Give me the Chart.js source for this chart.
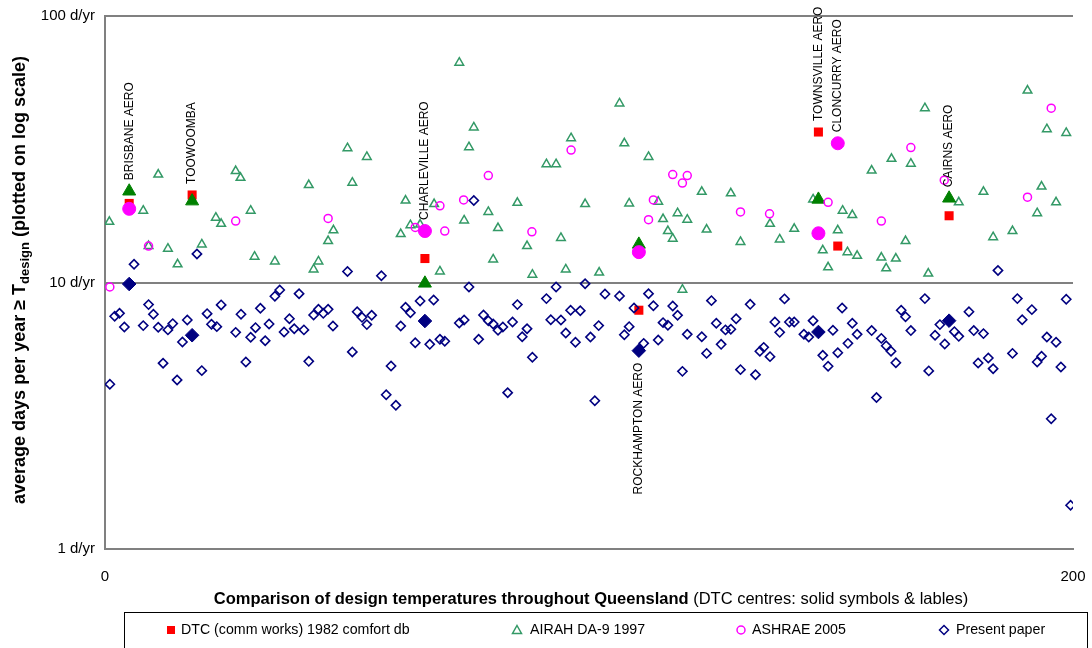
<!DOCTYPE html>
<html>
<head>
<meta charset="utf-8">
<title>Comparison of design temperatures throughout Queensland</title>
<script src="https://cdn.jsdelivr.net/npm/chart.js@4.4.0/dist/chart.umd.min.js"></script>
<style>
  html, body { margin: 0; padding: 0; background: #fff; }
  #wrap { width: 1092px; height: 648px; }
</style>
</head>
<body>
<div id="wrap"><canvas id="chart" width="1092" height="648"></canvas></div>
<script>
// DTC centres (solid symbols + labels)
const centreNames = ['BRISBANE AERO', 'TOOWOOMBA', 'CHARLEVILLE AERO', 'ROCKHAMPTON AERO', 'TOWNSVILLE AERO', 'CLONCURRY AERO', 'CAIRNS AERO'];
const centreX = [5.0, 18.0, 66.1, 110.3, 147.4, 151.4, 174.4];
const labelBelow = [false, false, false, true, false, false, false];
const dtcValues = [19.8, 21.3, 12.3, 7.87, 36.7, 13.7, 17.8];
const airahCentreValues = [22.0, 20.2, 9.93, 13.9, 20.5, null, 20.7];
const ashraeCentreValues = [18.9, null, 15.6, 13.0, 15.3, 33.3, null];
const presentCentreValues = [9.87, 6.34, 7.17, 5.55, 6.52, null, 7.19];

// Other stations: [station, days per year]
const airahPoints = [
  [0.9, 16.9], [7.9, 18.6], [9.0, 13.7], [11.0, 25.4], [13.0, 13.4], [15.0, 11.7], [20.0, 13.9], [22.9, 17.5],
  [24.0, 16.6], [27.0, 26.2], [28.0, 24.7], [30.1, 18.6], [30.9, 12.5], [35.1, 12.0], [42.1, 23.2], [43.1, 11.2],
  [44.1, 12.0], [46.1, 14.3], [47.2, 15.7], [50.1, 31.9], [51.1, 23.7], [54.1, 29.6], [61.1, 15.2], [62.1, 20.3],
  [63.1, 16.4], [65.1, 16.5], [68.0, 19.7], [69.2, 11.0], [73.2, 66.8], [74.2, 17.1], [75.2, 32.2], [76.2, 38.2],
  [79.2, 18.4], [80.2, 12.2], [81.2, 16.0], [85.2, 19.9], [87.2, 13.7], [88.3, 10.7], [91.2, 27.8], [93.2, 27.8],
  [94.2, 14.7], [95.2, 11.2], [96.3, 34.8], [99.2, 19.7], [102.1, 10.9], [106.3, 47.0], [107.3, 33.3], [108.3, 19.8],
  [112.3, 29.6], [114.3, 20.1], [115.3, 17.3], [116.3, 15.6], [117.3, 14.6], [118.3, 18.2], [119.3, 9.40], [120.3, 17.2],
  [123.3, 21.9], [124.3, 15.8], [129.3, 21.6], [131.3, 14.2], [137.4, 16.6], [139.4, 14.5], [142.4, 15.9], [146.3, 20.5],
  [148.3, 13.2], [149.4, 11.4], [151.4, 15.7], [152.4, 18.6], [153.4, 13.0], [154.4, 17.9], [155.4, 12.6], [158.4, 26.3],
  [160.4, 12.4], [161.4, 11.3], [162.5, 29.1], [163.4, 12.3], [165.4, 14.3], [166.5, 27.9], [169.4, 45.1], [170.1, 10.8],
  [176.4, 20.0], [181.5, 21.9], [183.5, 14.8], [187.5, 15.6], [190.6, 52.5], [192.6, 18.2], [193.5, 22.9], [194.6, 37.6],
  [196.5, 20.0], [198.6, 36.4]
];

const ashraePoints = [
  [1.0, 9.62], [9.0, 13.7], [27.0, 17.0], [46.1, 17.4], [64.1, 16.1], [69.2, 19.4], [70.2, 15.6], [74.1, 20.4],
  [79.2, 25.2], [88.2, 15.5], [96.3, 31.4], [112.3, 17.2], [113.3, 20.4], [117.3, 25.4], [119.3, 23.6], [120.3, 25.2],
  [131.3, 18.4], [137.3, 18.1], [149.4, 20.0], [160.4, 17.0], [166.5, 32.1], [173.4, 24.2], [190.6, 20.9], [195.5, 45.1]
];

const presentPoints = [
  [1.0, 4.15], [2.0, 7.47], [3.0, 7.66], [4.0, 6.81], [6.0, 11.7], [7.9, 6.89], [9.0, 8.26], [10.0, 7.60],
  [11.0, 6.79], [12.0, 4.98], [13.0, 6.64], [14.0, 7.01], [14.9, 4.31], [16.0, 5.98], [17.0, 7.23], [19.0, 12.8],
  [20.0, 4.67], [21.1, 7.64], [22.0, 6.97], [23.1, 6.83], [24.0, 8.24], [27.0, 6.50], [28.1, 7.60], [29.1, 5.03],
  [30.1, 6.23], [31.1, 6.77], [32.1, 8.00], [33.1, 6.05], [33.9, 6.99], [35.1, 8.88], [36.1, 9.37], [37.0, 6.52],
  [38.1, 7.31], [39.1, 6.71], [40.1, 9.08], [41.1, 6.64], [42.1, 5.06], [43.1, 7.55], [44.1, 7.93], [45.1, 7.66],
  [46.1, 7.93], [47.1, 6.87], [50.1, 11.0], [51.1, 5.49], [52.1, 7.77], [53.1, 7.40], [54.1, 6.95], [55.1, 7.53],
  [57.1, 10.6], [58.1, 3.79], [59.1, 4.86], [60.1, 3.46], [61.1, 6.87], [62.1, 8.07], [63.1, 7.70], [64.1, 5.94],
  [65.1, 8.52], [67.1, 5.86], [67.9, 8.60], [69.2, 6.12], [70.2, 6.02], [73.2, 7.05], [74.2, 7.23], [75.2, 9.62],
  [76.2, 20.3], [77.2, 6.12], [78.2, 7.55], [79.2, 7.19], [80.2, 6.99], [81.2, 6.62], [82.2, 6.81], [83.2, 3.86],
  [84.2, 7.11], [85.2, 8.26], [86.2, 6.26], [87.2, 6.71], [88.3, 5.24], [91.2, 8.70], [92.1, 7.25], [93.2, 9.62],
  [94.2, 7.23], [95.2, 6.46], [96.2, 7.87], [97.2, 5.97], [98.2, 7.84], [99.2, 9.90], [100.3, 6.24], [101.2, 3.60],
  [102.0, 6.89], [103.3, 9.05], [106.3, 8.90], [107.3, 6.37], [108.3, 6.83], [109.3, 8.02], [111.3, 5.91], [112.3, 9.08],
  [113.3, 8.18], [114.3, 6.08], [115.3, 7.07], [116.3, 6.91], [117.3, 8.16], [118.3, 7.53], [119.3, 4.64], [120.3, 6.39],
  [123.3, 6.26], [124.3, 5.42], [125.3, 8.55], [126.3, 7.03], [127.3, 5.86], [128.2, 6.64], [129.3, 6.68], [130.4, 7.31],
  [131.3, 4.71], [133.3, 8.28], [134.4, 4.51], [135.3, 5.52], [136.1, 5.71], [137.4, 5.27], [138.4, 7.11], [139.4, 6.50],
  [140.4, 8.68], [141.4, 7.11], [142.4, 7.11], [144.4, 6.39], [145.4, 6.24], [146.3, 7.19], [148.3, 5.33], [149.4, 4.85],
  [150.4, 6.62], [151.4, 5.45], [152.3, 8.02], [153.5, 5.91], [154.4, 7.03], [155.4, 6.39], [158.4, 6.60], [159.4, 3.70],
  [160.4, 6.17], [161.4, 5.79], [162.4, 5.52], [163.4, 5.00], [164.5, 7.87], [165.4, 7.44], [166.5, 6.60], [169.4, 8.70],
  [170.2, 4.66], [171.5, 6.34], [172.5, 6.95], [173.5, 5.88], [175.5, 6.54], [176.4, 6.28], [178.5, 7.77], [179.5, 6.60],
  [180.4, 4.99], [181.5, 6.43], [182.5, 5.21], [183.5, 4.75], [184.5, 11.1], [187.5, 5.42], [188.5, 8.70], [189.5, 7.25],
  [191.5, 7.91], [192.6, 5.03], [193.5, 5.29], [194.6, 6.24], [195.5, 3.08], [196.5, 5.97], [197.5, 4.82], [198.6, 8.65],
  [199.5, 1.46]
];

// Axis ticks
const xTicks = [0, 200];
const yTicks = [1, 10, 100];

const FONT = '"Liberation Sans", Arial, sans-serif';
const RED = '#FF0000', GREEN = '#339966', DKGREEN = '#008000', MAGENTA = '#FF00FF', NAVY = '#000080';

// Helpers
function toXY(pairs) {
  return pairs.map(p => ({ x: p[0], y: p[1] }));
}
function centrePoints(values) {
  const pts = [];
  values.forEach((v, i) => { if (v !== null) pts.push({ x: centreX[i], y: v }); });
  return pts;
}

// Labels, titles and legend box
const decorPlugin = {
  id: 'decor',
  afterDraw(chart) {
    const ctx = chart.ctx;
    const xs = chart.scales.x, ys = chart.scales.y;
    ctx.save();
    ctx.fillStyle = '#000';

    // centre labels (rotated)
    ctx.font = '12px ' + FONT;
    ctx.textBaseline = 'middle';
    centreNames.forEach((name, i) => {
      const vals = [dtcValues[i], airahCentreValues[i], ashraeCentreValues[i], presentCentreValues[i]].filter(v => v !== null);
      const px = xs.getPixelForValue(centreX[i]);
      ctx.save();
      if (labelBelow[i]) {
        const py = ys.getPixelForValue(Math.min(...vals)) + 12;
        ctx.translate(px, py);
        ctx.rotate(-Math.PI / 2);
        ctx.textAlign = 'right';
      } else {
        const py = ys.getPixelForValue(Math.max(...vals)) - 11;
        ctx.translate(px, py);
        ctx.rotate(-Math.PI / 2);
        ctx.textAlign = 'left';
      }
      ctx.fillText(name, 0, 0);
      ctx.restore();
    });

    // y axis title with subscript
    const big = 'bold 18px ' + FONT, sub = 'bold 13px ' + FONT;
    const parts = [['average days per year \u2265 T', big, 0], ['design', sub, 5], [' (plotted on log scale)', big, 0]];
    let total = 0;
    parts.forEach(p => { ctx.font = p[1]; total += ctx.measureText(p[0]).width; });
    ctx.save();
    ctx.translate(20, 280);
    ctx.rotate(-Math.PI / 2);
    ctx.textAlign = 'left';
    let pos = -total / 2;
    parts.forEach(p => {
      ctx.font = p[1];
      ctx.fillText(p[0], pos, p[2]);
      pos += ctx.measureText(p[0]).width;
    });
    ctx.restore();

    // x axis title (bold + normal)
    const t1 = 'Comparison of design temperatures throughout Queensland';
    const t2 = ' (DTC centres: solid symbols & lables)';
    ctx.font = 'bold 16.5px ' + FONT;
    const w1 = ctx.measureText(t1).width;
    ctx.font = '16.5px ' + FONT;
    const w2 = ctx.measureText(t2).width;
    let tx = 591 - (w1 + w2) / 2;
    ctx.textAlign = 'left';
    ctx.font = 'bold 16.5px ' + FONT;
    ctx.fillText(t1, tx, 599);
    ctx.font = '16.5px ' + FONT;
    ctx.fillText(t2, tx + w1, 599);

    // legend
    ctx.strokeStyle = '#000';
    ctx.lineWidth = 1;
    ctx.strokeRect(124.5, 612.5, 963, 50);
    ctx.font = '14.2px ' + FONT;
    const ly = 630;
    // DTC
    ctx.fillStyle = RED;
    ctx.fillRect(167, ly - 4, 8, 8);
    // AIRAH
    ctx.strokeStyle = GREEN;
    ctx.lineWidth = 1.5;
    ctx.beginPath();
    ctx.moveTo(517, ly - 4.5); ctx.lineTo(521.5, ly + 3.5); ctx.lineTo(512.5, ly + 3.5); ctx.closePath();
    ctx.stroke();
    // ASHRAE
    ctx.strokeStyle = MAGENTA;
    ctx.beginPath();
    ctx.arc(741, ly, 4, 0, Math.PI * 2);
    ctx.stroke();
    // Present
    ctx.strokeStyle = NAVY;
    ctx.beginPath();
    ctx.moveTo(944, ly - 4.5); ctx.lineTo(948.5, ly); ctx.lineTo(944, ly + 4.5); ctx.lineTo(939.5, ly); ctx.closePath();
    ctx.stroke();
    ctx.fillStyle = '#000';
    ctx.fillText('DTC (comm works) 1982 comfort db', 181, ly);
    ctx.fillText('AIRAH DA-9 1997', 530, ly);
    ctx.fillText('ASHRAE 2005', 752, ly);
    ctx.fillText('Present paper', 956, ly);
    ctx.restore();
  }
};

const datasets = [
  { label: 'DTC (comm works) 1982 comfort db', data: centrePoints(dtcValues), pointStyle: 'rect', pointRadius: 6.4,
    backgroundColor: RED, borderColor: RED, borderWidth: 0, order: 6 },
  { label: 'AIRAH DA-9 1997', data: toXY(airahPoints), pointStyle: 'triangle', pointRadius: 5,
    backgroundColor: 'rgba(0,0,0,0)', borderColor: GREEN, borderWidth: 1.5, order: 5 },
  { label: 'AIRAH centres', data: centrePoints(airahCentreValues), pointStyle: 'triangle', pointRadius: 7.5,
    backgroundColor: DKGREEN, borderColor: DKGREEN, borderWidth: 1, order: 4 },
  { label: 'ASHRAE 2005', data: toXY(ashraePoints), pointStyle: 'circle', pointRadius: 4,
    backgroundColor: 'rgba(0,0,0,0)', borderColor: MAGENTA, borderWidth: 1.5, order: 3 },
  { label: 'ASHRAE centres', data: centrePoints(ashraeCentreValues), pointStyle: 'circle', pointRadius: 6.5,
    backgroundColor: MAGENTA, borderColor: MAGENTA, borderWidth: 1, order: 2 },
  { label: 'Present paper', data: toXY(presentPoints), pointStyle: 'rectRot', pointRadius: 4.6,
    backgroundColor: 'rgba(0,0,0,0)', borderColor: NAVY, borderWidth: 1.6, order: 1 },
  { label: 'Present centres', data: centrePoints(presentCentreValues), pointStyle: 'rectRot', pointRadius: 6.8,
    backgroundColor: NAVY, borderColor: NAVY, borderWidth: 1, order: 0 }
];

new Chart(document.getElementById('chart'), {
  type: 'scatter',
  data: { datasets },
  options: {
    responsive: false,
    animation: false,
    events: [],
    layout: { padding: { left: 0, right: 19, top: 16, bottom: 0 } },
    plugins: { legend: { display: false }, tooltip: { enabled: false } },
    scales: {
      x: {
        type: 'linear', min: 0, max: 200,
        afterBuildTicks: scale => { scale.ticks = xTicks.map(v => ({ value: v })); },
        afterFit: scale => {
          scale.height = 99;
          scale.paddingLeft = 0;
          scale.paddingRight = 0;
        },
        grid: { display: false, drawTicks: false },
        border: { display: true, color: '#808080', width: 2 },
        ticks: { padding: 19, color: '#000', font: { size: 15, family: FONT }, maxRotation: 0 }
      },
      y: {
        type: 'logarithmic', min: 1, max: 100,
        afterBuildTicks: scale => { scale.ticks = yTicks.map(v => ({ value: v })); },
        afterFit: scale => {
          scale.width = 105;
          scale.paddingTop = 0;
          scale.paddingBottom = 0;
        },
        grid: { color: '#808080', lineWidth: 2, drawTicks: false },
        border: { display: true, color: '#808080', width: 2 },
        ticks: { padding: 10, color: '#000', font: { size: 15, family: FONT }, callback: v => v + ' d/yr' }
      }
    }
  },
  plugins: [decorPlugin]
});
</script>
</body>
</html>
